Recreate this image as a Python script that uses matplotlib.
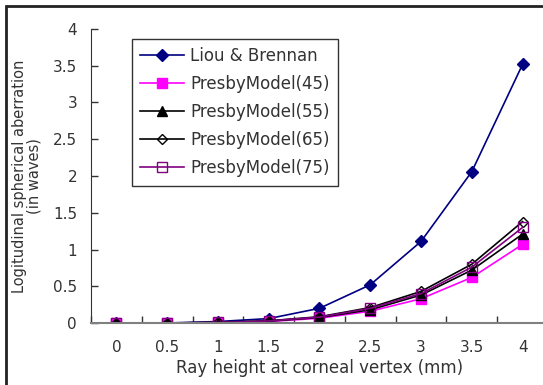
import numpy as np
import matplotlib
matplotlib.use("Agg")
import matplotlib.pyplot as plt
from matplotlib.patches import Rectangle

# ── Data ──────────────────────────────────────────────────────────────────────
ray_height = ["0", "0.5", "1", "1.5", "2", "2.5", "3", "3.5", "4"]
liou       = [0.0, 0.0, 0.02, 0.06, 0.20, 0.52, 1.11, 2.06, 3.52]
presby45   = [0.0, 0.0, 0.005, 0.02, 0.065, 0.16, 0.33, 0.62, 1.07]
presby55   = [0.0, 0.0, 0.006, 0.025, 0.075, 0.18, 0.38, 0.72, 1.21]
presby65   = [0.0, 0.0, 0.008, 0.03, 0.085, 0.21, 0.43, 0.80, 1.38]
presby75   = [0.0, 0.0, 0.007, 0.028, 0.08, 0.20, 0.40, 0.76, 1.30]

text_col = "#333333"
plt.rcParams["font.family"] = ["DejaVu Sans"]

fig = plt.figure(figsize=(5.43, 3.85), dpi=100)
W, H = 543, 385
# axes box in pixel units: left 91, bottom 323, top 29, right past the edge
ax = fig.add_axes([91 / W, (H - 323) / H, (548 - 91) / W, (323 - 29) / H])

x = np.arange(len(ray_height))
ax.plot(x, liou, "-", color="#000080", lw=1.2, marker="D", ms=6,
        mfc="#000080", mec="#000080", label="Liou & Brennan")
ax.plot(x, presby45, "-", color="#ff00ff", lw=1.2, marker="s", ms=7,
        mfc="#ff00ff", mec="#ff00ff", label="PresbyModel(45)")
ax.plot(x, presby55, "-", color="black", lw=1.2, marker="^", ms=7,
        mfc="black", mec="black", label="PresbyModel(55)")
ax.plot(x, presby65, "-", color="black", lw=1.2, marker="D", ms=5,
        mfc="none", mec="black", label="PresbyModel(65)")
ax.plot(x, presby75, "-", color="#800080", lw=1.2, marker="s", ms=7,
        mfc="none", mec="#800080", label="PresbyModel(75)")

ax.set_xlim(-0.5, len(ray_height) - 0.5)
ax.set_ylim(0, 4)
ax.set_yticks(np.arange(0, 4.01, 0.5))
ax.set_yticklabels(["0", "0.5", "1", "1.5", "2", "2.5", "3", "3.5", "4"])
ax.set_xticks(x)
ax.set_xticklabels(ray_height)
ax.set_xticks(np.arange(-0.5, len(ray_height)), minor=True)
ax.tick_params(axis="x", which="major", length=0, pad=12,
               labelsize=11, labelcolor=text_col)
ax.tick_params(axis="x", which="minor", direction="in", length=5,
               width=1, color="#333333")
ax.tick_params(axis="y", direction="in", length=5, width=1,
               labelsize=11, labelcolor=text_col, pad=10, color="#333333")

for s in ["top", "right"]:
    ax.spines[s].set_visible(False)
ax.spines["left"].set_color("#333333")
ax.spines["bottom"].set_color("#808080")
ax.spines["bottom"].set_linewidth(1.5)

ax.set_xlabel("Ray height at corneal vertex (mm)", fontsize=12,
              color=text_col, labelpad=3)
ax.set_ylabel("Logitudinal spherical aberration\n(in waves)", fontsize=10.5,
              color=text_col, labelpad=4, linespacing=1.0)
ax.yaxis.set_label_coords(-0.108, 0.5)

leg = ax.legend(loc="upper left", bbox_to_anchor=((132 - 91) / 457, 1 - (39 - 29) / 294),
                fontsize=12, frameon=True, fancybox=False, handlelength=2.6,
                labelspacing=0.6, borderpad=0.5, handletextpad=0.4,
                borderaxespad=0)
leg.get_frame().set_edgecolor("black")
leg.get_frame().set_linewidth(1.0)
for t in leg.get_texts():
    t.set_color(text_col)

# outer chart frame (cut off at right and bottom in the reference)
fig.patches.append(Rectangle((6 / W, -0.1), 1.2, 1 - 6 / H + 0.1,
                             transform=fig.transFigure, fill=False,
                             edgecolor="#222222", lw=2))

fig.savefig("out.png", dpi=100)
